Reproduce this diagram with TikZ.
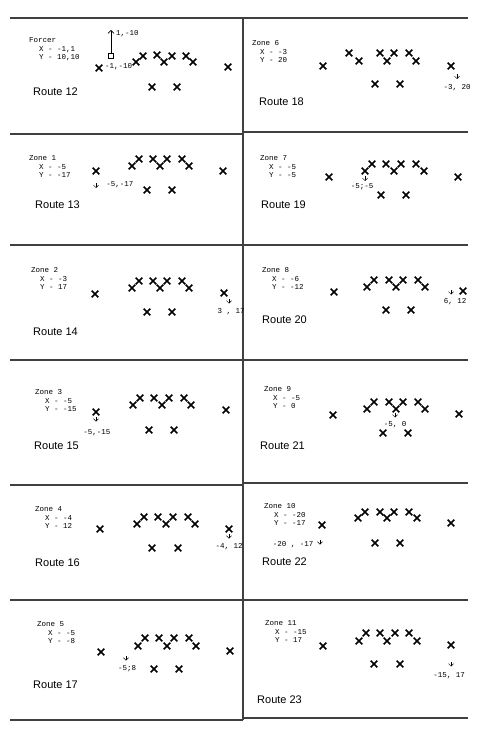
\documentclass[tikz,border=0pt]{standalone}
\usepackage{fontspec}
\setmainfont{Liberation Sans}
\setmonofont{Liberation Mono}
\usetikzlibrary{arrows.meta,shapes.misc,calc}
\tikzset{
  rule/.style={line width=1.6pt,black!75},
  player/.style={draw,cross out,line width=1.6pt,minimum size=5pt,inner sep=0pt},
  forcer/.style={draw,rectangle,line width=1.1pt,minimum size=5pt,inner sep=0pt},
  info/.style={anchor=north west,align=left,inner sep=0pt,font=\ttfamily\fontsize{7.5}{8.5}\selectfont},
  lbl/.style={inner sep=0pt,font=\ttfamily\fontsize{7.5}{8.5}\selectfont},
  route/.style={anchor=west,inner sep=0pt,font=\fontsize{11}{13}\selectfont},
  tip/.style={-{Straight Barb[length=2.5pt,width=5pt]},line width=0.5pt},
  longtip/.style={-{Straight Barb[length=3pt,width=6pt]},line width=0.6pt}
}
\begin{document}
\begin{tikzpicture}[x=1pt,y=-1pt]
\useasboundingbox (0,0) rectangle (480,735);
% page rules
\foreach \y in {18,134,245,360,485,600,720} \draw[rule] (10,\y) -- (243,\y);
\foreach \y in {18,132,245,360,483,600,718} \draw[rule] (243,\y) -- (468,\y);
\draw[rule] (243,18) -- (243,720);
% Route 12
\node[info] (z12) at (29,37.5) {Forcer\\\hspace*{10pt}X - -1,1\\\hspace*{10pt}Y - 10,10};
\foreach \x/\y [count=\i] in {99/68,136/62,143/56,157/55,164/62,172/56,186/56,193/62,152/87,177/87,228/67}
  \node[player] (p12-\i) at (\x,\y) {};
\node[forcer] (sq) at (111,56) {}; \coordinate (up) at (111,30);
\draw[longtip] (sq) -- (up);
\node[lbl,anchor=west] (l12a) at (116,34) {1,-10};
\node[lbl,anchor=west] (l12b) at (105,67) {-1,-10};
\node[route] (r12) at (33,92) {Route 12};
% Route 18
\node[info] (z18) at (252,40.5) {Zone 6\\\hspace*{8pt}X - -3\\\hspace*{8pt}Y - 20};
\foreach \x/\y [count=\i] in {323/66,349/53,359/61,380/53,387/61,394/53,409/53,416/61,375/84,400/84,451/66}
  \node[player] (p18-\i) at (\x,\y) {};
\coordinate (a18) at (457,74.5); \coordinate (b18) at (457,79);
\draw[tip] (a18) -- (b18);
\node[lbl] (l18) at (457,88) {-3, 20};
\node[route] (r18) at (259,102) {Route 18};
% Route 13
\node[info] (z13) at (29,155.5) {Zone 1\\\hspace*{10pt}X - -5\\\hspace*{10pt}Y - -17};
\foreach \x/\y [count=\i] in {96/171,132/166,139/159,153/159,160/166,167/159,182/159,189/166,147/190,172/190,223/171}
  \node[player] (p13-\i) at (\x,\y) {};
\coordinate (a13) at (96,183.5); \coordinate (b13) at (96,188);
\draw[tip] (a13) -- (b13);
\node[lbl] (l13) at (120,185) {-5,-17};
\node[route] (r13) at (35,205) {Route 13};
% Route 19
\node[info] (z19) at (260,155.5) {Zone 7\\\hspace*{9pt}X - -5\\\hspace*{9pt}Y - -5};
\foreach \x/\y [count=\i] in {329/177,365/171,372/164,386/164,394/171,401/164,416/164,424/171,381/195,406/195,458/177}
  \node[player] (p19-\i) at (\x,\y) {};
\coordinate (a19) at (365,176.5); \coordinate (b19) at (365,181);
\draw[tip] (a19) -- (b19);
\node[lbl] (l19) at (362,187) {-5;-5};
\node[route] (r19) at (261,205) {Route 19};
% Route 14
\node[info] (z14) at (31,267.5) {Zone 2\\\hspace*{9pt}X - -3\\\hspace*{9pt}Y - 17};
\foreach \x/\y [count=\i] in {95/294,132/288,139/281,153/281,160/288,167/281,182/281,189/288,147/312,172/312,224/293}
  \node[player] (p14-\i) at (\x,\y) {};
\coordinate (a14) at (229,299); \coordinate (b14) at (229,303.5);
\draw[tip] (a14) -- (b14);
\node[lbl] (l14) at (231,312) {3 , 17};
\node[route] (r14) at (33,332) {Route 14};
% Route 20
\node[info] (z20) at (262,267.5) {Zone 8\\\hspace*{10pt}X - -6\\\hspace*{10pt}Y - -12};
\foreach \x/\y [count=\i] in {334/292,367/287,374/280,389/280,396/287,403/280,418/280,425/287,386/310,411/310,463/291}
  \node[player] (p20-\i) at (\x,\y) {};
\coordinate (a20) at (451,290); \coordinate (b20) at (451,294.5);
\draw[tip] (a20) -- (b20);
\node[lbl] (l20) at (455,302) {6, 12};
\node[route] (r20) at (262,320) {Route 20};
% Route 15
\node[info] (z15) at (35,389.5) {Zone 3\\\hspace*{10pt}X - -5\\\hspace*{10pt}Y - -15};
\foreach \x/\y [count=\i] in {96/412,133/405,140/398,154/398,162/405,169/398,184/398,191/405,149/430,174/430,226/410}
  \node[player] (p15-\i) at (\x,\y) {};
\coordinate (a15) at (96,417); \coordinate (b15) at (96,421.5);
\draw[tip] (a15) -- (b15);
\node[lbl] (l15) at (97,433) {-5,-15};
\node[route] (r15) at (34,446) {Route 15};
% Route 21
\node[info] (z21) at (264,386.5) {Zone 9\\\hspace*{9pt}X - -5\\\hspace*{9pt}Y - 0};
\foreach \x/\y [count=\i] in {333/415,367/409,374/402,389/402,396/409,403/402,418/402,425/409,383/433,408/433,459/414}
  \node[player] (p21-\i) at (\x,\y) {};
\coordinate (a21) at (395,413); \coordinate (b21) at (395,417.5);
\draw[tip] (a21) -- (b21);
\node[lbl] (l21) at (395,425) {-5, 0};
\node[route] (r21) at (260,446) {Route 21};
% Route 16
\node[info] (z16) at (35,506.5) {Zone 4\\\hspace*{10pt}X - -4\\\hspace*{10pt}Y - 12};
\foreach \x/\y [count=\i] in {100/529,137/524,144/517,158/517,166/524,173/517,188/517,195/524,152/548,178/548,229/529}
  \node[player] (p16-\i) at (\x,\y) {};
\coordinate (a16) at (229,534); \coordinate (b16) at (229,538.5);
\draw[tip] (a16) -- (b16);
\node[lbl] (l16) at (229,547) {-4, 12};
\node[route] (r16) at (35,563) {Route 16};
% Route 22
\node[info] (z22) at (264,503.5) {Zone 10\\\hspace*{10pt}X - -20\\\hspace*{10pt}Y - -17};
\foreach \x/\y [count=\i] in {322/525,358/518,365/512,380/512,387/518,394/512,409/512,417/518,375/543,400/543,451/523}
  \node[player] (p22-\i) at (\x,\y) {};
\coordinate (a22) at (320,540); \coordinate (b22) at (320,544.5);
\draw[tip] (a22) -- (b22);
\node[lbl] (l22) at (293,545) {-20 , -17};
\node[route] (r22) at (262,562) {Route 22};
% Route 17
\node[info] (z17) at (37,621.5) {Zone 5\\\hspace*{11pt}X - -5\\\hspace*{11pt}Y - -8};
\foreach \x/\y [count=\i] in {101/652,138/646,145/638,159/638,167/646,174/638,189/638,196/646,154/669,179/669,230/651}
  \node[player] (p17-\i) at (\x,\y) {};
\coordinate (a17) at (126,656); \coordinate (b17) at (126,660.5);
\draw[tip] (a17) -- (b17);
\node[lbl] (l17) at (127,669) {-5;8};
\node[route] (r17) at (33,685) {Route 17};
% Route 23
\node[info] (z23) at (265,620.5) {Zone 11\\\hspace*{10pt}X - -15\\\hspace*{10pt}Y - 17};
\foreach \x/\y [count=\i] in {323/646,359/641,366/633,380/633,387/641,395/633,409/633,417/641,374/664,400/664,451/645}
  \node[player] (p23-\i) at (\x,\y) {};
\coordinate (a23) at (451,662); \coordinate (b23) at (451,666.5);
\draw[tip] (a23) -- (b23);
\node[lbl] (l23) at (449,676) {-15, 17};
\node[route] (r23) at (257,700) {Route 23};
\end{tikzpicture}
\end{document}
